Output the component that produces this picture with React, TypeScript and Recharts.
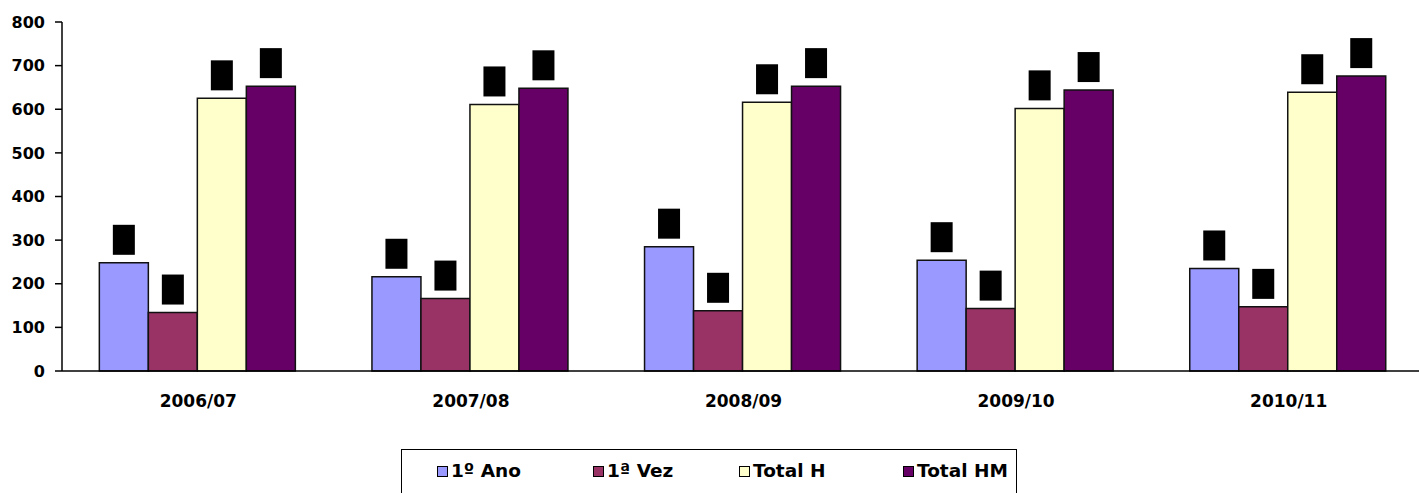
import React from "react";
import { BarChart, Bar, XAxis, YAxis, LabelList } from "recharts";

const years = ["2006/07", "2007/08", "2008/09", "2009/10", "2010/11"];
const primeiroAno = [248, 216, 285, 254, 235];
const primeiraVez = [134, 166, 138, 143, 147];
const totalH = [625, 611, 616, 602, 639];
const totalHM = [653, 648, 653, 644, 676];
const yTicks = [0, 100, 200, 300, 400, 500, 600, 700, 800];
const edgeTicks = [0, 1, 2, 3, 4, 5];

const series = [
  { key: "ano", name: "1º Ano", color: "#9999FF" },
  { key: "vez", name: "1ª Vez", color: "#993366" },
  { key: "h", name: "Total H", color: "#FFFFCC" },
  { key: "hm", name: "Total HM", color: "#660066" },
];

const data = years.map((y, i) => ({
  year: y,
  ano: primeiroAno[i],
  vez: primeiraVez[i],
  h: totalH[i],
  hm: totalHM[i],
}));

// wide bold face, close to the stretched Arial of the original
const font = "'DejaVu Sans', 'Liberation Sans', Arial, sans-serif";

// the labels in the original came out as black boxes (missing glyphs)
const BoxLabel = (props: any) => {
  const { x, y, width } = props;
  return <rect x={x + width / 2 - 11} y={y - 38} width={22} height={30} fill="#000" />;
};

// legend item offsets inside the box
const legendLeft = [35, 191, 337, 501];

export default function App() {
  return (
    <div style={{ position: "absolute", left: 0, top: 0, width: 1419, height: 493, overflow: "hidden", background: "#fff", fontFamily: font }}>
      <BarChart
        width={1430}
        height={493}
        data={data}
        margin={{ top: 22, right: 5, left: 0, bottom: 82 }}
        barCategoryGap="13.7%"
        barGap={0}
      >
        <XAxis
          xAxisId="edge"
          type="number"
          domain={[0, 5]}
          ticks={edgeTicks}
          allowDataOverflow
          height={0}
          axisLine={false}
          tickSize={6}
          tickLine={{ stroke: "#000", strokeWidth: 1.5 }}
          tickFormatter={() => ""}
        />
        <XAxis
          dataKey="year"
          height={40}
          axisLine={{ stroke: "#000", strokeWidth: 1.5 }}
          tickLine={false}
          tickSize={0}
          tickMargin={24}
          tick={{ fontSize: 17, fontWeight: 700, fill: "#000", fontFamily: font }}
        />
        <YAxis
          width={62}
          domain={[0, 800]}
          ticks={yTicks}
          interval={0}
          axisLine={{ stroke: "#000", strokeWidth: 1.5 }}
          tickLine={{ stroke: "#000", strokeWidth: 1.5 }}
          tickSize={7}
          tickMargin={10}
          tick={{ fontSize: 16, fontWeight: 700, fill: "#000", fontFamily: font }}
        />
        {series.map((s) => (
          <Bar
            key={s.key}
            dataKey={s.key}
            name={s.name}
            fill={s.color}
            stroke="#111"
            strokeWidth={1.5}
            isAnimationActive={false}
          >
            <LabelList dataKey={s.key} content={BoxLabel} />
          </Bar>
        ))}
      </BarChart>
      <div style={{ position: "absolute", left: 401, top: 449, width: 616, height: 60, border: "1px solid #000", boxSizing: "border-box" }}>
        {series.map((s, i) => (
          <div key={s.key} style={{ position: "absolute", left: legendLeft[i], top: 10, display: "flex", alignItems: "center", whiteSpace: "nowrap" }}>
            <span style={{ display: "inline-block", width: 9, height: 9, background: s.color, border: "1px solid #000", marginRight: 3 }} />
            <span style={{ fontSize: 18.5, fontWeight: 700, color: "#000", lineHeight: "22px" }}>{s.name}</span>
          </div>
        ))}
      </div>
    </div>
  );
}
